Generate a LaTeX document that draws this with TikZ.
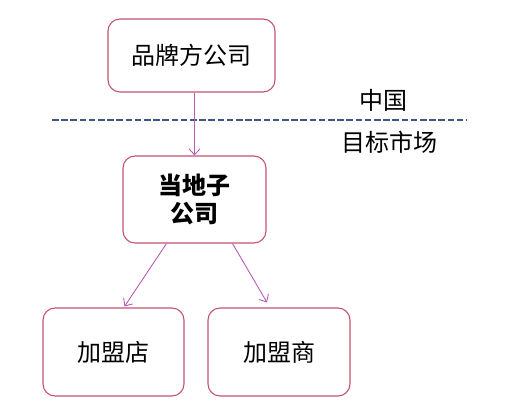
\documentclass[tikz,border=0pt]{standalone}
\usepackage{fontspec}
\usepackage{tikz}
\usetikzlibrary{arrows.meta,positioning,calc}
\newfontfamily\cjk{Noto Sans CJK SC}
\definecolor{boxred}{RGB}{196,84,116}
\definecolor{arrowpurple}{RGB}{184,92,184}
\definecolor{lineblue}{RGB}{62,84,132}

\begin{document}
\begin{tikzpicture}[
        x=1pt, y=-1pt,
        every node/.style={font=\cjk\fontsize{24}{29}\selectfont},
        box/.style={rectangle, draw=boxred, line width=1.1pt, rounded corners=12pt, fill=white, align=center, inner sep=0pt},
        link/.style={draw=arrowpurple, line width=0.9pt, -{Straight Barb[length=6pt,width=11pt]}}
    ]
        \useasboundingbox (0,0) rectangle (507,404);

        % Brand company
        \node[box, minimum width=167pt, minimum height=73pt] (brand) at (191.5,55.5) {品牌方公司};

        % Border between home and target market
        \coordinate (borderL) at (52,120);
        \coordinate (borderR) at (467,120);
        \draw[lineblue, line width=2.4pt, dash pattern=on 6.5pt off 2.7pt] (borderL) -- (borderR);
        \node (home) at (383,100) {中国};
        \node (market) at (389,142) {目标市场};

        % Local subsidiary
        \node[box, minimum width=143pt, minimum height=87pt, font=\cjk\bfseries\fontsize{24}{28}\selectfont] (sub) at (194.5,199.5) {当地子\\公司};

        % Bottom layer
        \node[box, minimum width=141pt, minimum height=88pt] (store) at (113.5,352) {加盟店};
        \node[box, minimum width=142pt, minimum height=88pt] (dealer) at (279,352) {加盟商};

        % Arrows
        \draw[link] (brand.south -| sub.north) -- (sub.north);
        \draw[link] ([xshift=-28pt]sub.south) -- ([xshift=11pt,yshift=1pt]store.north);
        \draw[link] ([xshift=38pt]sub.south) -- ([xshift=-12pt,yshift=5pt]dealer.north);
    \end{tikzpicture}
\end{document}
